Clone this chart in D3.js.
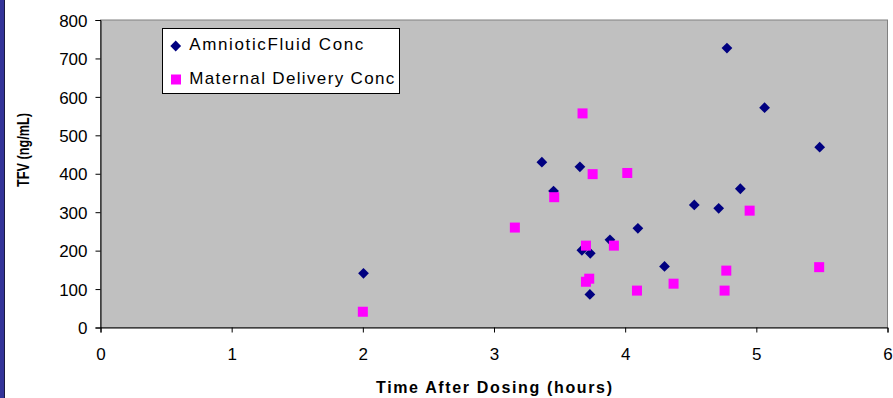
<!DOCTYPE html>
<html>
<head>
<meta charset="utf-8">
<script src="https://cdn.jsdelivr.net/npm/d3@7"></script>
<style>
  body { margin: 0; background: #fff; }
  svg { display: block; font-family: "Liberation Sans", Arial, sans-serif; }
</style>
</head>
<body>
<div class="d3"></div>
<script>
// amniotic fluid concentration (diamonds)
const afTime = [2.005, 3.365, 3.454, 3.655, 3.670, 3.734, 3.731, 3.884, 4.097, 4.300, 4.527, 4.713, 4.776, 4.878, 5.063, 5.483];
const afConc = [141, 430, 355, 418, 201, 193, 86, 228, 258, 159, 319, 310, 727, 361, 572, 469];
// maternal delivery concentration (squares)
const mdTime = [2.0, 3.159, 3.459, 3.675, 3.701, 3.701, 3.726, 3.752, 3.914, 4.016, 4.090, 4.369, 4.758, 4.771, 4.949, 5.479];
const mdConc = [41, 260, 339, 557, 213, 119, 127, 399, 213, 402, 96, 114, 96, 148, 304, 157];

const xTicks = [0, 1, 2, 3, 4, 5, 6];
const yTicks = [0, 100, 200, 300, 400, 500, 600, 700, 800];
const seriesNames = ["AmnioticFluid Conc", "Maternal Delivery Conc"];

function main() {
    const width = 893, height = 398;
    const svg = d3.select(".d3").append("svg")
        .attr("width", width)
        .attr("height", height);

    // left frame strip
    svg.append("rect").attr("x", 0).attr("y", 0).attr("width", 4).attr("height", height).attr("fill", "#333399");
    svg.append("rect").attr("x", 4).attr("y", 0).attr("width", 1).attr("height", height).attr("fill", "#1a1a40");

    const x = d3.scaleLinear().domain([0, 6]).range([100.5, 887.5]);
    const y = d3.scaleLinear().domain([0, 800]).range([327.5, 20]);

    // plot area
    svg.append("rect")
        .attr("x", x(0)).attr("y", y(800))
        .attr("width", x(6) - x(0)).attr("height", y(0) - y(800))
        .attr("fill", "#c0c0c0")
        .attr("stroke", "#808080");

    // y axis
    const yAxis = svg.append("g")
        .attr("transform", "translate(" + x(0) + ",0)")
        .call(d3.axisLeft(y).tickValues(yTicks).tickSize(5).tickPadding(8));
    yAxis.select(".domain").attr("stroke", "#000");
    yAxis.selectAll(".tick line").attr("stroke", "#000");
    yAxis.selectAll(".tick text")
        .attr("font-size", 17).attr("fill", "#000")
        .attr("font-family", "Liberation Sans, Arial, sans-serif")
        .attr("dy", "0.36em");

    // x axis
    const xAxis = svg.append("g")
        .attr("transform", "translate(0," + y(0) + ")")
        .call(d3.axisBottom(x).tickValues(xTicks).tickFormat(d3.format("d")).tickSize(5).tickPadding(15));
    xAxis.select(".domain").attr("stroke", "#000");
    xAxis.selectAll(".tick line").attr("stroke", "#000");
    xAxis.selectAll(".tick text")
        .attr("font-size", 17).attr("fill", "#000")
        .attr("font-family", "Liberation Sans, Arial, sans-serif");

    // points
    const diamond = d3.symbol().type(d3.symbolSquare).size(58);
    svg.append("g").selectAll("path")
        .data(d3.zip(afTime, afConc))
        .enter().append("path")
        .attr("d", diamond)
        .attr("transform", d => "translate(" + x(d[0]) + "," + y(d[1]) + ") rotate(45)")
        .attr("fill", "#000080");

    const sq = 10;
    svg.append("g").selectAll("rect")
        .data(d3.zip(mdTime, mdConc))
        .enter().append("rect")
        .attr("x", d => x(d[0]) - sq / 2)
        .attr("y", d => y(d[1]) - sq / 2)
        .attr("width", sq).attr("height", sq)
        .attr("fill", "#ff00ff");

    // axis titles
    svg.append("text")
        .attr("transform", "translate(28.5,150) rotate(-90)")
        .attr("text-anchor", "middle")
        .attr("font-size", 17).attr("font-weight", "bold")
        .attr("textLength", 74).attr("lengthAdjust", "spacingAndGlyphs")
        .text("TFV (ng/mL)");
    svg.append("text")
        .attr("x", (x(0) + x(6)) / 2).attr("y", 393)
        .attr("text-anchor", "middle")
        .attr("font-size", 16).attr("font-weight", "bold")
        .attr("textLength", 236).attr("lengthAdjust", "spacing")
        .text("Time After Dosing (hours)");

    // legend
    const lg = svg.append("g");
    lg.append("rect")
        .attr("x", 162.5).attr("y", 28.5).attr("width", 237).attr("height", 65)
        .attr("fill", "#fff").attr("stroke", "#000");
    lg.append("path")
        .attr("d", diamond)
        .attr("transform", "translate(175.7,46) rotate(45)")
        .attr("fill", "#000080");
    lg.append("rect")
        .attr("x", 171).attr("y", 74.5).attr("width", sq).attr("height", sq)
        .attr("fill", "#ff00ff");
    const legendLen = [174, 205];
    const legendBase = [50, 83.5];
    seriesNames.forEach(function (name, i) {
        lg.append("text")
            .attr("x", 189.3).attr("y", legendBase[i])
            .attr("font-size", 17)
            .attr("textLength", legendLen[i]).attr("lengthAdjust", "spacing")
            .text(name);
    });
}
main();
</script>
</body>
</html>
